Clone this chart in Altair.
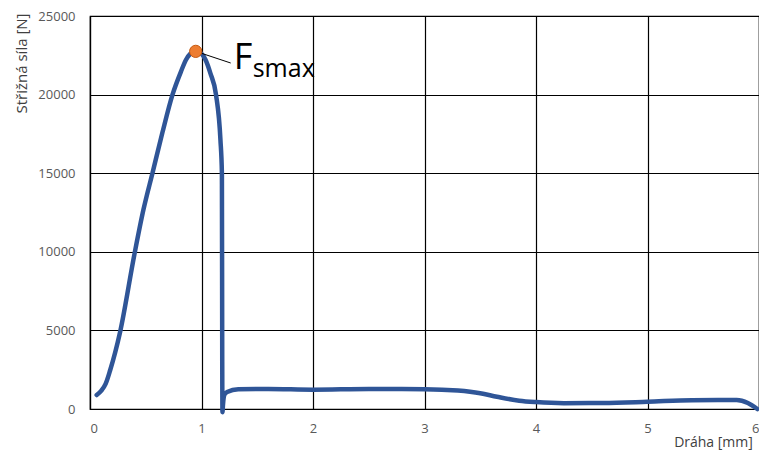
import altair as alt
import pandas as pd

# Curve: path [mm] vs shear force [N]
path_mm = [0.06, 0.10, 0.14, 0.18, 0.27, 0.40, 0.48, 0.56, 0.65, 0.74, 0.815, 0.86, 0.90, 0.948,
           1.00, 1.037, 1.08, 1.13, 1.17, 1.183, 1.186, 1.188, 1.193, 1.205,
           1.23, 1.33, 1.6, 2.0, 2.5, 3.0, 3.3, 3.5, 3.65, 3.85, 4.0, 4.25, 4.6,
           5.0, 5.4, 5.8, 5.9, 5.985]
force_n = [890, 1150, 1600, 2450, 4900, 9900, 12700, 15000, 17600, 20000, 21450, 22200, 22600, 22750,
           22600, 22200, 21350, 20000, 17100, 15000, 3000, -200, 300, 900,
           1080, 1250, 1270, 1230, 1270, 1260, 1170, 1000, 780, 530, 440, 370, 380,
           460, 560, 570, 380, 0]

peak_mm = [0.948]
peak_n = [22750]
leader_end_mm = [1.262]
leader_end_n = [22010]

x_ticks = [0, 1, 2, 3, 4, 5, 6]
y_ticks = [0, 5000, 10000, 15000, 20000, 25000]

FONT = "Open Sans"

curve = pd.DataFrame({"x": path_mm, "y": force_n, "i": list(range(len(path_mm)))})
peak = pd.DataFrame({"x": peak_mm, "y": peak_n, "x2": leader_end_mm, "y2": leader_end_n})

xs = alt.Scale(domain=[0, 6], nice=False, zero=False)
ys = alt.Scale(domain=[0, 25000], nice=False)

x_axis = alt.Axis(values=x_ticks, format="d", title="Dráha [mm]", labelPadding=13,
                  titleX=623, titleY=33, titleAlign="center", titleBaseline="middle",
                  titleFontSize=14, titleFontWeight="normal", titleColor="#404040",
                  titleFont=FONT)
y_axis = alt.Axis(values=y_ticks, format="d", title="Střižná síla [N]", labelPadding=15,
                  titleX=-69, titleY=47, titleAngle=270, titleAlign="center",
                  titleBaseline="middle", titleFontSize=15, titleFontWeight="normal",
                  titleColor="#404040", titleFont=FONT)

line = alt.Chart(curve).mark_line(color="#2F5597", strokeWidth=4.5, interpolate="monotone",
                                  strokeCap="round", strokeJoin="round", clip=False).encode(
    x=alt.X("x:Q", scale=xs, axis=x_axis),
    y=alt.Y("y:Q", scale=ys, axis=y_axis),
    order="i:Q",
)

leader = alt.Chart(peak).mark_rule(color="#000000", strokeWidth=1).encode(
    x="x:Q", y="y:Q", x2="x2:Q", y2="y2:Q"
)

point = alt.Chart(peak).mark_point(filled=True, size=150, color="#ED7D31",
                                   stroke="#C55A11", strokeWidth=1, opacity=1).encode(
    x="x:Q", y="y:Q"
)

label_f = alt.Chart(peak).mark_text(text="F", font=FONT, fontSize=36, align="left",
                                   baseline="alphabetic", dx=38, dy=18, color="#000000").encode(
    x="x:Q", y="y:Q"
)
label_sub = alt.Chart(peak).mark_text(text="smax", font=FONT, fontSize=25, align="left",
                                     baseline="alphabetic", dx=57, dy=26, color="#000000").encode(
    x="x:Q", y="y:Q"
)

chart = alt.layer(line, leader, point, label_f, label_sub).properties(
    width=669, height=393,
    autosize=alt.AutoSizeParams(type="none"),
    padding={"left": 82, "top": 8, "right": 0, "bottom": 42},
    background="white",
).configure_view(
    stroke="#000000", strokeWidth=1.2
).configure_axis(
    grid=True, gridColor="#000000", gridWidth=1.2, gridOpacity=1,
    domainColor="#000000", domainWidth=1.2, ticks=False, tickSize=0,
    labelColor="#595959", labelFont=FONT, labelFontSize=13,
)

chart.save("out.html", embed_options={"renderer": "svg", "actions": False})
